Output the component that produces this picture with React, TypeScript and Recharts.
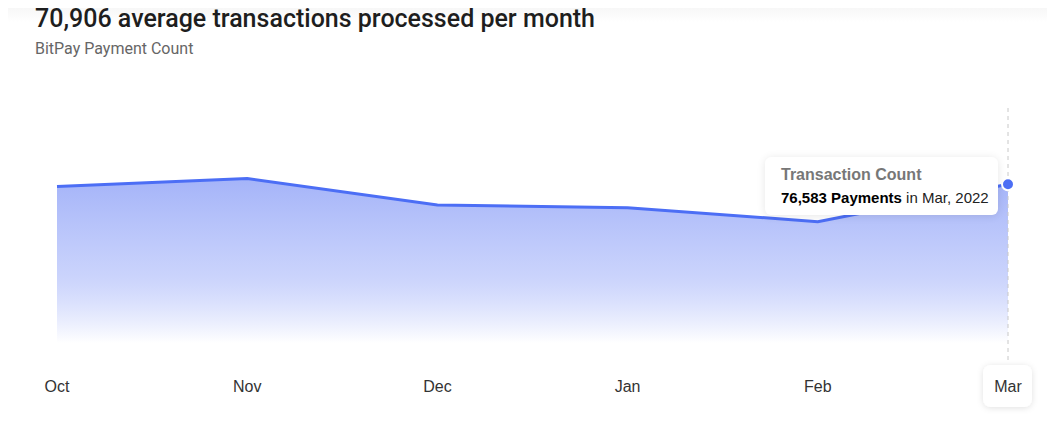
import React from "react";
import { AreaChart, Area, XAxis, YAxis, Tooltip } from "recharts";

const months = ["Oct", "Nov", "Dec", "Jan", "Feb", "Mar"];
const years = [2021, 2021, 2021, 2022, 2022, 2022];
const payments = [75530, 79390, 66600, 65300, 58540, 76583];

const data = months.map((m, i) => ({ month: m, year: years[i], count: payments[i] }));

const BLUE = "#4c6ef5";
const ACTIVE_INDEX = 5;

function MonthTick(props: any) {
  const { x, y, payload, index } = props;
  const active = index === ACTIVE_INDEX;
  return (
    <g transform={`translate(${x},${y + 35})`}>
      {active && (
        <rect
          x={-25}
          y={-21}
          width={49}
          height={42}
          rx={8}
          fill="#fff"
          filter="url(#tickShadow)"
        />
      )}
      <text
        textAnchor="middle"
        dominantBaseline="central"
        fontSize={16}
        fill="#333"
        fontFamily="'Liberation Sans', Arial, sans-serif"
      >
        {payload.value}
      </text>
    </g>
  );
}

function DashedCursor(props: any) {
  const { points } = props;
  if (!points || points.length < 2) return null;
  const x = points[0].x;
  return (
    <line
      x1={x}
      x2={x}
      y1={points[0].y}
      y2={points[1].y + 17}
      stroke="#c8c8c8"
      strokeWidth={1}
      strokeDasharray="4 4"
    />
  );
}

function CountTooltip({ active, payload }: any) {
  if (!active || !payload || !payload.length) return null;
  const p = payload[0].payload;
  return (
    <div
      style={{
        background: "#fff",
        borderRadius: 6,
        boxShadow: "0 1px 8px rgba(0,0,0,0.10)",
        padding: "9px 8px 8px 16px",
        width: 209,
        fontFamily: "'Liberation Sans', Arial, sans-serif",
        whiteSpace: "nowrap",
      }}
    >
      <div style={{ fontSize: 16, fontWeight: 700, color: "#777", lineHeight: "18px" }}>
        Transaction Count
      </div>
      <div style={{ fontSize: 15, color: "#222", marginTop: 5, lineHeight: "18px" }}>
        <b style={{ color: "#000" }}>{p.count.toLocaleString("en-US")} Payments</b> in{" "}
        {p.month}, {p.year}
      </div>
    </div>
  );
}

export default function App() {
  return (
    <div
      style={{
        position: "relative",
        width: 1055,
        height: 444,
        margin: -8,
        background: "#fff",
        overflow: "hidden",
      }}
    >
      <div
        style={{
          position: "absolute",
          left: 0,
          top: 0,
          width: 1055,
          height: 22,
          background: "linear-gradient(#f2f2f2, #ffffff)",
        }}
      />
      <div
        style={{
          position: "absolute",
          left: 35,
          top: 4,
          fontFamily: "Roboto, sans-serif",
          fontWeight: 500,
          fontSize: 25,
          color: "#1e1e1e",
          whiteSpace: "nowrap",
        }}
      >
        70,906 average transactions processed per month
      </div>
      <div
        style={{
          position: "absolute",
          left: 35,
          top: 39,
          fontFamily: "Roboto, sans-serif",
          fontSize: 16,
          color: "#666",
          whiteSpace: "nowrap",
        }}
      >
        BitPay Payment Count
      </div>
      <div style={{ position: "absolute", left: 0, top: 0 }}>
        <AreaChart
          width={1055}
          height={444}
          data={data}
          margin={{ top: 108, right: 47, bottom: 71, left: 57 }}
        >
          <defs>
            <linearGradient id="countFill" x1="0" y1="0" x2="0" y2="1">
              <stop offset="0%" stopColor="#9aabf8" stopOpacity={0.9} />
              <stop offset="60%" stopColor="#b9c5fb" stopOpacity={0.75} />
              <stop offset="100%" stopColor="#ffffff" stopOpacity={1} />
            </linearGradient>
            <filter id="tickShadow" x="-40%" y="-40%" width="180%" height="180%">
              <feDropShadow dx="0" dy="1" stdDeviation="3" floodColor="#000" floodOpacity="0.12" />
            </filter>
          </defs>
          <XAxis
            dataKey="month"
            axisLine={false}
            tickLine={false}
            tick={<MonthTick />}
            interval={0}
            height={30}
          />
          <YAxis hide domain={[0, 113400]} />
          <Tooltip
            active
            defaultIndex={ACTIVE_INDEX}
            position={{ x: 765, y: 157 }}
            content={<CountTooltip />}
            cursor={<DashedCursor />}
            isAnimationActive={false}
          />
          <Area
            type="linear"
            dataKey="count"
            stroke={BLUE}
            strokeWidth={3}
            fill="url(#countFill)"
            fillOpacity={1}
            dot={false}
            activeDot={{ r: 6, fill: BLUE, stroke: "#fff", strokeWidth: 2 }}
            isAnimationActive={false}
          />
        </AreaChart>
      </div>
    </div>
  );
}
